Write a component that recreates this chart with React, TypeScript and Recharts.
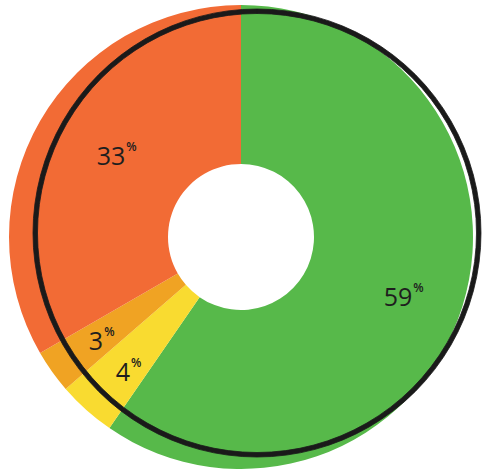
import React from "react";
import { PieChart, Pie, Cell } from "recharts";

const categories = ["Green", "Yellow", "Amber", "Orange"];
const values = [59, 4, 3, 33];
const colors = ["#57B94A", "#F9DB30", "#F0A323", "#F26B35"];
const ringValues = [1];

const data = categories.map((name, i) => ({ name, value: values[i] }));
const ringData = ringValues.map((v) => ({ name: "ring", value: v }));

const RAD = Math.PI / 180;
const LABEL_RADIUS = [173, 175, 173, 149];
const LABEL_ANGLE_SHIFT = [-2.6, 1.8, 0.9, -3.5];

const renderLabel = (props: any) => {
  const { cx, cy, midAngle, index, value } = props;
  const r = LABEL_RADIUS[index] ?? 165;
  const a = midAngle + (LABEL_ANGLE_SHIFT[index] ?? 0);
  const x = cx + r * Math.cos(-a * RAD);
  const y = cy + r * Math.sin(-a * RAD);
  return (
    <text
      x={x}
      y={y}
      textAnchor="middle"
      dominantBaseline="central"
      fill="#1e1e1e"
      fontFamily="'Open Sans', 'Noto Sans', sans-serif"
      fontSize={25}
    >
      {value}
      <tspan fontSize={12} dx={1} dy={-9} fontWeight={600}>%</tspan>
    </text>
  );
};

export default function App() {
  return (
    <div style={{ position: "absolute", left: 0, top: 0, width: 487, height: 472 }}>
      <PieChart width={487} height={472} margin={{ top: 0, right: 0, bottom: 0, left: 0 }}>
        <Pie
          data={data}
          dataKey="value"
          nameKey="name"
          cx={241}
          cy={237}
          innerRadius={73}
          outerRadius={232}
          startAngle={90}
          endAngle={-270}
          stroke="none"
          label={renderLabel}
          labelLine={false}
          isAnimationActive={false}
        >
          {data.map((d, i) => (
            <Cell key={d.name} fill={colors[i]} />
          ))}
        </Pie>
        <Pie
          data={ringData}
          dataKey="value"
          cx={257}
          cy={233}
          innerRadius={219.5}
          outerRadius={224}
          startAngle={90}
          endAngle={-270}
          fill="#1a1a1a"
          stroke="#1a1a1a"
          strokeWidth={0.8}
          label={false}
          labelLine={false}
          isAnimationActive={false}
        />
      </PieChart>
    </div>
  );
}
